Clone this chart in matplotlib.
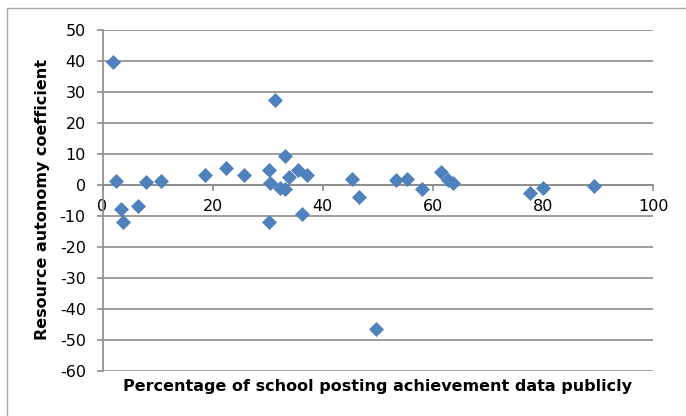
import matplotlib
matplotlib.use("Agg")
import matplotlib.pyplot as plt
from matplotlib.patches import Rectangle

# Data
pct_posting = [1.9, 2.5, 3.3, 3.8, 6.4, 7.9, 10.7, 18.7, 22.5, 25.7,
               30.3, 30.5, 30.3, 31.3, 32.2, 33.2, 33.1, 33.9, 35.5, 37.2,
               36.2, 45.3, 46.6, 49.6, 53.3, 55.3, 58.1, 61.5, 62.8, 63.6,
               77.7, 80.1, 89.3]
coef = [39.6, 1.3, -7.8, -11.9, -6.8, 1.1, 1.2, 3.2, 5.4, 3.2,
        4.7, 0.75, -11.8, 27.3, -1.1, -1.4, 9.5, 2.6, 4.9, 3.2,
        -9.4, 1.9, -3.9, -46.5, 1.7, 1.9, -1.3, 4.1, 1.5, 0.6,
        -2.6, -1.1, -0.2]
x_ticks = [0, 20, 40, 60, 80, 100]
y_ticks = [-60, -50, -40, -30, -20, -10, 0, 10, 20, 30, 40, 50]
x_title = "Percentage of school posting achievement data publicly"
y_title = "Resource autonomy coefficient"

plt.rcParams['font.family'] = ['DejaVu Sans']
plt.rcParams['axes.unicode_minus'] = False

W, H = 686, 416
fig = plt.figure(figsize=(W / 100, H / 100), dpi=100)
fig.patch.set_facecolor('white')

# outer chart border (only top and left visible in the reference)
fig.add_artist(Rectangle((7 / W, -0.1), 1.2, 1 - 8 / H + 0.1, transform=fig.transFigure,
                         fill=False, edgecolor='#a6a6a6', linewidth=1.0))

left, right, top, bottom = 102.5, 653, 30, 371
ax = fig.add_axes([left / W, 1 - bottom / H, (right - left) / W, (bottom - top) / H])
ax.set_facecolor('none')

grid_c = '#8c8c8c'
ax.set_xlim(0, 100)
ax.set_ylim(-60, 50)
ax.set_xticks(x_ticks)
ax.set_yticks(y_ticks)
ax.yaxis.grid(True, color=grid_c, linewidth=1.2)
ax.set_axisbelow(True)

for s in ['top', 'right']:
    ax.spines[s].set_visible(False)
ax.spines['left'].set_color(grid_c)
ax.spines['left'].set_linewidth(1.2)
ax.spines['bottom'].set_position(('data', 0))
ax.spines['bottom'].set_color(grid_c)
ax.spines['bottom'].set_linewidth(1.2)

ax.tick_params(axis='both', colors=grid_c, labelcolor='black', labelsize=11.5,
               length=4, width=1.2, direction='out')
ax.tick_params(axis='y', pad=8)
ax.tick_params(axis='x', pad=6)

ax.plot(pct_posting, coef, linestyle='none', marker='D', markersize=7.2,
        markerfacecolor='#4F81BD', markeredgecolor='#4F81BD', markeredgewidth=0.5,
        clip_on=False, zorder=3)

fig.text(378 / W, 1 - 386 / H, x_title, ha='center', va='center',
         fontsize=11.5, fontweight='bold')
fig.text(43 / W, 1 - 200 / H, y_title, ha='center', va='center', rotation=90,
         fontsize=11.5, fontweight='bold')

fig.savefig('out.png', dpi=100)
